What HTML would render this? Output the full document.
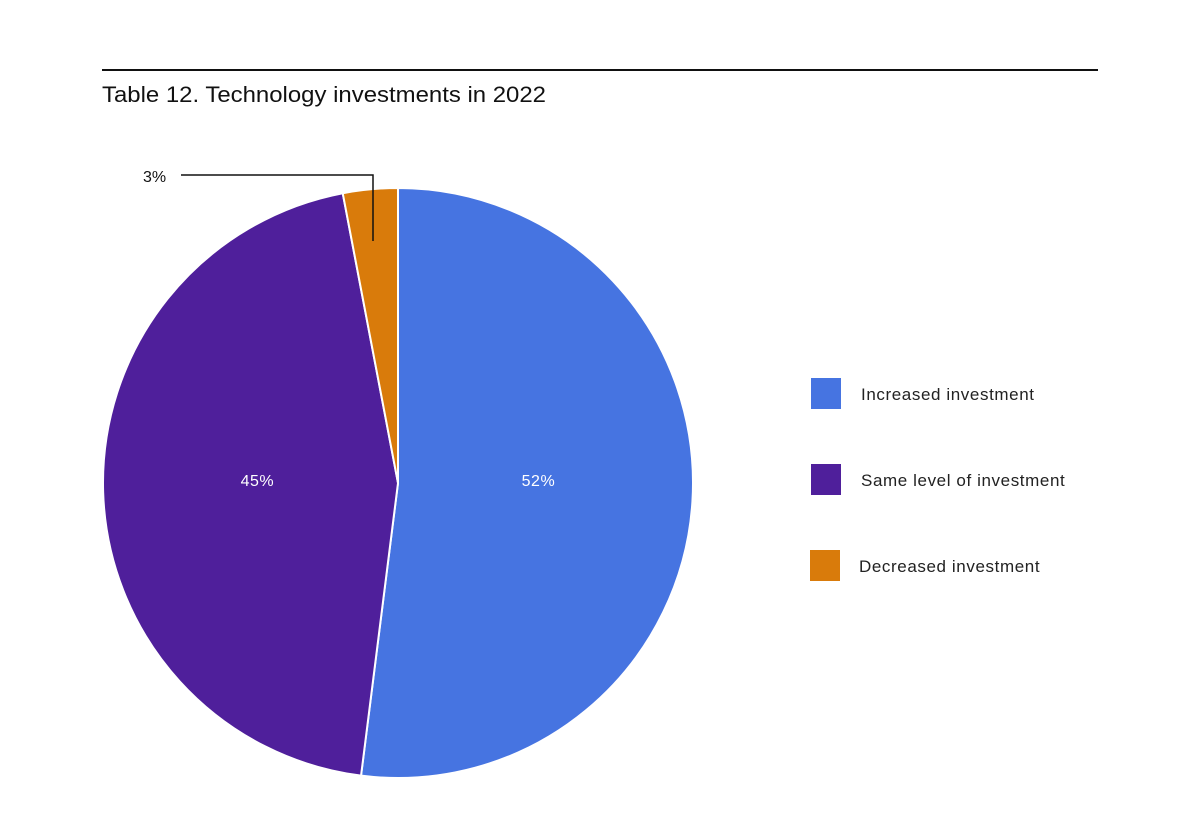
<!DOCTYPE html>
<html><head><meta charset="utf-8"><style>
html,body{margin:0;padding:0;background:#fff;width:1200px;height:821px;overflow:hidden;font-family:"Liberation Sans",sans-serif;}
</style></head><body>
<svg width="1200" height="821" xmlns="http://www.w3.org/2000/svg">
<line x1="102" y1="70" x2="1098" y2="70" stroke="#111" stroke-width="2"/>
<text x="102" y="102" font-size="22" fill="#111" textLength="444" lengthAdjust="spacingAndGlyphs">Table 12. Technology investments in 2022</text>
<g id="pie"></g>
<g id="legend"></g>
<polyline points="181,175 373,175 373,241" fill="none" stroke="#111" stroke-width="1.5"/>
<text x="143" y="182" font-size="16" fill="#111">3%</text>
</svg>
<script>
const categories=["Increased investment","Same level of investment","Decreased investment"];
const values=[52,45,3];
const colors=["#4674e1","#4f1f9b","#d97b0b"];
const ns="http://www.w3.org/2000/svg";
const cx=398,cy=483,r=295;
const pie=document.getElementById('pie');
const total=values.reduce((a,b)=>a+b,0);
let a0=0;
values.forEach((v,i)=>{
  const a1=a0+v/total*2*Math.PI;
  const x0=cx+r*Math.sin(a0),y0=cy-r*Math.cos(a0),x1=cx+r*Math.sin(a1),y1=cy-r*Math.cos(a1);
  const p=document.createElementNS(ns,'path');
  p.setAttribute('d',`M${cx},${cy}L${x0},${y0}A${r},${r} 0 ${a1-a0>Math.PI?1:0} 1 ${x1},${y1}Z`);
  p.setAttribute('fill',colors[i]);p.setAttribute('stroke','#fff');p.setAttribute('stroke-width','2');
  
  
  pie.appendChild(p);
  if(v>10){
    const m=(a0+a1)/2;
    const t=document.createElementNS(ns,'text');
    t.setAttribute('x',cx+r*0.477*Math.sin(m));t.setAttribute('y',cy+3);
    t.setAttribute('text-anchor','middle');t.setAttribute('font-size','16');t.setAttribute('fill','#fff');
    t.setAttribute('letter-spacing','0.5');
    t.textContent=v+'%';
    
    
    pie.appendChild(t);
  }
  a0=a1;
});
const lg=document.getElementById('legend');
categories.forEach((c,i)=>{
  const y=378+i*86;
  const s=document.createElementNS(ns,'rect');
  s.setAttribute('x',i==2?810:811);s.setAttribute('y',y);s.setAttribute('width',30);s.setAttribute('height',31);s.setAttribute('fill',colors[i]);
  
  
  lg.appendChild(s);
  const t=document.createElementNS(ns,'text');
  t.setAttribute('x',i==2?859:861);t.setAttribute('y',y+22);t.setAttribute('font-size','17');t.setAttribute('fill','#222');
  t.setAttribute('letter-spacing','0.6');
  t.textContent=c;
  
  
  lg.appendChild(t);
});
</script>
</body></html>
